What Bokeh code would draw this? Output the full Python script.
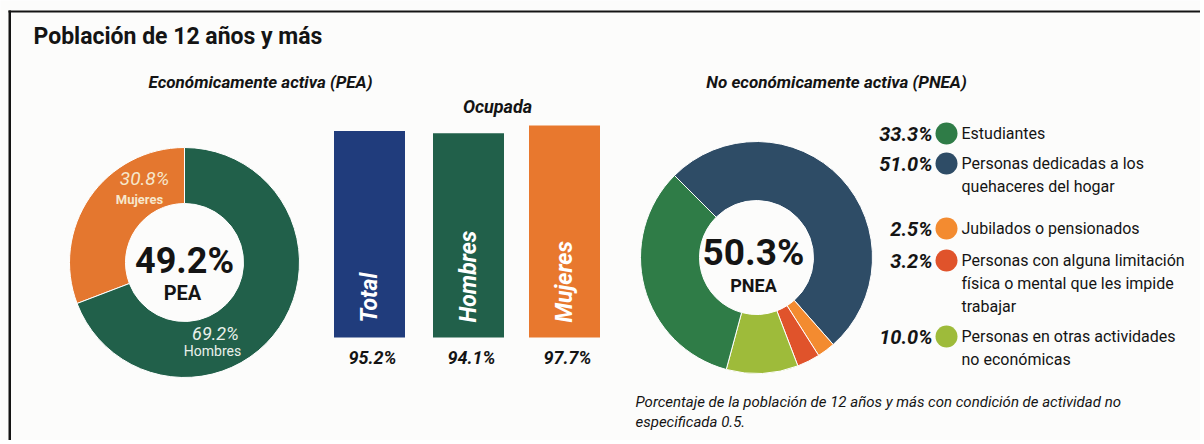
import numpy as np
from bokeh.plotting import figure
from bokeh.models import Range1d, Label, BoxAnnotation, ColumnDataSource
from bokeh.embed import file_html
from bokeh.resources import INLINE

# ---------------- data ----------------
title_text = "Población de 12 años y más"
pea_title = "Económicamente activa (PEA)"
pnea_title = "No económicamente activa (PNEA)"

pea_share = 49.2
pea_labels = ["Mujeres", "Hombres"]
pea_values = [30.8, 69.2]

occ_title = "Ocupada"
occ_labels = ["Total", "Hombres", "Mujeres"]
occ_values = [95.2, 94.1, 97.7]

pnea_share = 50.3
pnea_labels = [
    ["Estudiantes"],
    ["Personas dedicadas a los", "quehaceres del hogar"],
    ["Jubilados o pensionados"],
    ["Personas con alguna limitación", "física o mental que les impide", "trabajar"],
    ["Personas en otras actividades", "no económicas"],
]
pnea_values = [33.3, 51.0, 2.5, 3.2, 10.0]
pie_order = [1, 2, 3, 4, 0]  # clockwise from upper-left

footnote = ["Porcentaje de la población de 12 años y más con condición de actividad no",
            "especificada 0.5."]

# ---------------- style ----------------
FONT = "Roboto"
BG = "#FCFCFB"
INK = "#141414"
pea_colors = ["#E4772F", "#21604A"]
occ_colors = ["#203C7C", "#21604A", "#E8782E"]
pnea_colors = ["#2F7C47", "#2E4C66", "#F38B30", "#E0532B", "#9EBB3A"]

W, H = 1200, 440


def Y(v):
    return H - v


p = figure(width=W, height=H, x_range=Range1d(0, W), y_range=Range1d(0, H),
           output_backend="svg", toolbar_location=None, min_border=0,
           x_axis_location=None, y_axis_location=None)
p.grid.visible = False
p.outline_line_color = None
p.background_fill_color = BG
p.border_fill_color = BG

# frame lines (top and left rule)
p.add_layout(BoxAnnotation(left=8, right=W, top=Y(10), bottom=Y(12),
                           fill_color=INK, fill_alpha=1, line_color=None))
p.add_layout(BoxAnnotation(left=8, right=10.5, top=Y(10), bottom=0,
                           fill_color=INK, fill_alpha=1, line_color=None))


def label(x, y, text, size, style="bold", color=INK, align="left", baseline="middle", angle=0):
    p.add_layout(Label(x=x, y=Y(y), text=text, text_font=FONT, text_font_size=f"{size}px",
                       text_font_style=style, text_color=color, text_align=align,
                       text_baseline=baseline, angle=angle))


label(33, 36, title_text, 23)
label(260, 81, pea_title, 17, "bold italic", align="center")
label(836, 81, pnea_title, 17, "bold italic", align="center")

# ---------------- PEA donut ----------------
cx1, cy1 = 184, 262
cum = np.concatenate([[0], np.cumsum(pea_values)]) / 100.0 * 2 * np.pi
src1 = ColumnDataSource(dict(start=np.pi / 2 + cum[:-1], end=np.pi / 2 + cum[1:], color=pea_colors))
p.annular_wedge(x=cx1, y=Y(cy1), inner_radius=59, outer_radius=115, start_angle="start",
                end_angle="end", direction="anticlock", fill_color="color",
                line_color="white", line_width=1, source=src1)
label(cx1, 260, f"{pea_share}%", 36, "bold", align="center")
label(cx1 - 2, 292, "PEA", 20, "bold", align="center")
label(144, 178, f"{pea_values[0]}%", 19, "italic", color="#F6E7CC", align="center")
label(139, 199, pea_labels[0], 13, "bold", color="#F6E7CC", align="center")
label(215, 333, f"{pea_values[1]}%", 18, "italic", color="#E9F0EA", align="center")
label(212, 350, pea_labels[1], 14, "normal", color="#E9F0EA", align="center")

# ---------------- Ocupada bars ----------------
BASE, K = 337, 2.17
p.extra_y_ranges = {"pct": Range1d(-(H - BASE) / K, BASE / K)}
bar_x = [369, 468, 564]
p.vbar(x=bar_x, width=71, bottom=0, top=occ_values, y_range_name="pct",
       fill_color=occ_colors, line_color=None)
label(497, 106, occ_title, 18, "bold italic", align="center")
for bx, lab, v in zip(bar_x, occ_labels, occ_values):
    label(bx, 322, lab, 23, "bold italic", color="white", align="left", angle=np.pi / 2)
    label(bx + 3, 357, f"{v}%", 18, "bold italic", align="center")

# ---------------- PNEA donut ----------------
cx2, cy2 = 756, 257
vals = [pnea_values[i] for i in pie_order]
cols = [pnea_colors[i] for i in pie_order]
cum2 = np.concatenate([[0], np.cumsum(vals)]) / 100.0 * 2 * np.pi
start0 = np.radians(135)
src2 = ColumnDataSource(dict(start=start0 - cum2[:-1], end=start0 - cum2[1:], color=cols))
p.annular_wedge(x=cx2, y=Y(cy2), inner_radius=57, outer_radius=116, start_angle="start",
                end_angle="end", direction="clock", fill_color="color",
                line_color="white", line_width=1, source=src2)
label(cx2 - 3, 252, f"{pnea_share}%", 37, "bold", align="center")
label(cx2 - 3, 285, "PNEA", 18, "bold", align="center")

# legend
row_y = [133, 163, 228, 260, 336]
line_gap = 23
p.scatter(x=[946] * 5, y=[Y(v) for v in row_y], size=22, fill_color=pnea_colors,
          line_color=None, marker="circle")
for ry, v, lines in zip(row_y, pnea_values, pnea_labels):
    label(932, ry, f"{v}%", 20, "bold italic", align="right")
    for j, t in enumerate(lines):
        label(961, ry + j * line_gap, t, 16, "normal")

label(635, 401, footnote[0], 15, "italic")
label(635, 421, footnote[1], 15, "italic")

open("out.html", "w").write(file_html(p, INLINE))
